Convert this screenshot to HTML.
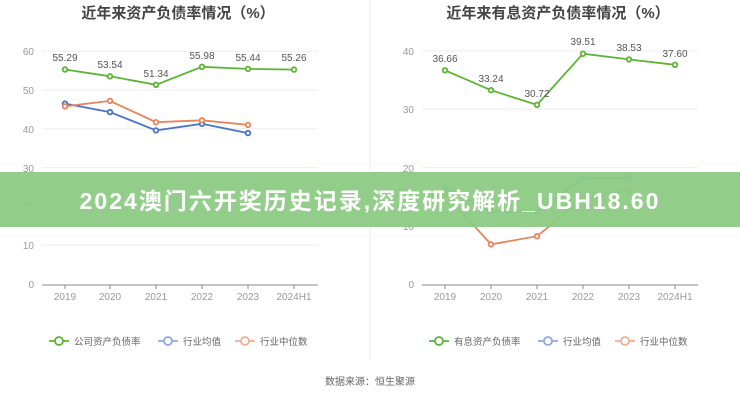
<!DOCTYPE html>
<html><head><meta charset="utf-8"><style>
body{margin:0;width:740px;height:400px;background:#fff;overflow:hidden;font-family:"Liberation Sans","Noto Sans CJK SC",sans-serif}
</style></head><body>
<svg width="740" height="400" xmlns="http://www.w3.org/2000/svg" style="position:absolute;left:0;top:0;font-family:'Liberation Sans','Noto Sans CJK SC',sans-serif">
<line x1="370" y1="0" x2="370" y2="360" stroke="#eee"/>
<text x="178" y="18" font-size="15" font-weight="bold" fill="#444" text-anchor="middle">近年来资产负债率情况（%）</text>
<text x="558" y="18" font-size="15" font-weight="bold" fill="#444" text-anchor="middle">近年来有息资产负债率情况（%）</text>
<g stroke="#eee">
<line x1="42" x2="318" y1="51.2" y2="51.2"/><line x1="42" x2="318" y1="90" y2="90"/><line x1="42" x2="318" y1="128.8" y2="128.8"/><line x1="42" x2="318" y1="167.6" y2="167.6"/><line x1="42" x2="318" y1="206.4" y2="206.4"/><line x1="42" x2="318" y1="245.2" y2="245.2"/>
<line x1="422" x2="698" y1="51" y2="51"/><line x1="422" x2="698" y1="109.3" y2="109.3"/><line x1="422" x2="698" y1="167.6" y2="167.6"/><line x1="422" x2="698" y1="225.8" y2="225.8"/>
</g>
<g stroke="#888"><line x1="42" x2="318" y1="285" y2="285"/><line x1="422" x2="698" y1="285" y2="285"/>
<path d="M65 285v4M110 285v4M156 285v4M202 285v4M248 285v4M294 285v4M445 285v4M491 285v4M537 285v4M583 285v4M629 285v4M675 285v4"/></g>
<g font-size="10" fill="#999" text-anchor="end">
<text x="34" y="55">60</text><text x="34" y="94">50</text><text x="34" y="133">40</text><text x="34" y="172">30</text><text x="34" y="210">20</text><text x="34" y="249">10</text><text x="34" y="288">0</text>
<text x="414" y="55">40</text><text x="414" y="113">30</text><text x="414" y="172">20</text><text x="414" y="230">10</text><text x="414" y="288">0</text>
</g>
<g font-size="10" fill="#999" text-anchor="middle">
<text x="65" y="300">2019</text><text x="110" y="300">2020</text><text x="156" y="300">2021</text><text x="202" y="300">2022</text><text x="248" y="300">2023</text><text x="294" y="300">2024H1</text>
<text x="445" y="300">2019</text><text x="491" y="300">2020</text><text x="537" y="300">2021</text><text x="583" y="300">2022</text><text x="629" y="300">2023</text><text x="675" y="300">2024H1</text>
</g>
<g fill="#fff" stroke-width="1.8">
<polyline points="65,103.6 110,112.1 156,130.4 202,123.8 248,133.1" fill="none" stroke="#4a74c9"/>
<polyline points="65,106.3 110,100.9 156,122.2 202,120.3 248,124.9" fill="none" stroke="#e8845a"/>
<polyline points="65,69.5 110,76.3 156,84.8 202,66.8 248,68.9 294,69.6" fill="none" stroke="#5bb534"/>
<polyline points="445,187.2 491,211.7 537,211.7 583,177.9 629,177.9" fill="none" stroke="#4a74c9"/>
<polyline points="445,193.6 491,244.4 537,236.2 583,199.5 629,190.1" fill="none" stroke="#e8845a"/>
<polyline points="445,70.3 491,90.2 537,104.9 583,53.7 629,59.4 675,64.8" fill="none" stroke="#5bb534"/>
<g stroke="#4a74c9"><circle cx="65" cy="103.6" r="2.3"/><circle cx="110" cy="112.1" r="2.3"/><circle cx="156" cy="130.4" r="2.3"/><circle cx="202" cy="123.8" r="2.3"/><circle cx="248" cy="133.1" r="2.3"/>
<circle cx="445" cy="187.2" r="2.3"/><circle cx="491" cy="211.7" r="2.3"/><circle cx="537" cy="211.7" r="2.3"/><circle cx="583" cy="177.9" r="2.3"/><circle cx="629" cy="177.9" r="2.3"/></g>
<g stroke="#e8845a"><circle cx="65" cy="106.3" r="2.3"/><circle cx="110" cy="100.9" r="2.3"/><circle cx="156" cy="122.2" r="2.3"/><circle cx="202" cy="120.3" r="2.3"/><circle cx="248" cy="124.9" r="2.3"/>
<circle cx="445" cy="193.6" r="2.3"/><circle cx="491" cy="244.4" r="2.3"/><circle cx="537" cy="236.2" r="2.3"/><circle cx="583" cy="199.5" r="2.3"/><circle cx="629" cy="190.1" r="2.3"/></g>
<g stroke="#5bb534"><circle cx="65" cy="69.5" r="2.3"/><circle cx="110" cy="76.3" r="2.3"/><circle cx="156" cy="84.8" r="2.3"/><circle cx="202" cy="66.8" r="2.3"/><circle cx="248" cy="68.9" r="2.3"/><circle cx="294" cy="69.6" r="2.3"/>
<circle cx="445" cy="70.3" r="2.3"/><circle cx="491" cy="90.2" r="2.3"/><circle cx="537" cy="104.9" r="2.3"/><circle cx="583" cy="53.7" r="2.3"/><circle cx="629" cy="59.4" r="2.3"/><circle cx="675" cy="64.8" r="2.3"/></g>
</g>
<g font-size="10" fill="#555" text-anchor="middle">
<text x="65" y="61">55.29</text><text x="110" y="68">53.54</text><text x="156" y="77">51.34</text><text x="202" y="59">55.98</text><text x="248" y="61">55.44</text><text x="294" y="61">55.26</text>
<text x="445" y="62">36.66</text><text x="491" y="82">33.24</text><text x="537" y="97">30.72</text><text x="583" y="45">39.51</text><text x="629" y="51">38.53</text><text x="675" y="57">37.60</text>
</g>
<g font-size="9.5" fill="#666" stroke-width="1.8">
<line x1="49" x2="69" y1="341" y2="341" stroke="#5bb534"/><circle cx="59" cy="341" r="4" fill="#fff" stroke="#5bb534"/><text x="74" y="345" stroke="none">公司资产负债率</text>
<line x1="158" x2="178" y1="341" y2="341" stroke="#8fa8e0"/><circle cx="168" cy="341" r="4" fill="#fff" stroke="#8fa8e0"/><text x="183" y="345" stroke="none">行业均值</text>
<line x1="235" x2="255" y1="341" y2="341" stroke="#f2ae95"/><circle cx="245" cy="341" r="4" fill="#fff" stroke="#f2ae95"/><text x="260" y="345" stroke="none">行业中位数</text>
<line x1="429" x2="449" y1="341" y2="341" stroke="#5bb534"/><circle cx="439" cy="341" r="4" fill="#fff" stroke="#5bb534"/><text x="454" y="345" stroke="none">有息资产负债率</text>
<line x1="538" x2="558" y1="341" y2="341" stroke="#8fa8e0"/><circle cx="548" cy="341" r="4" fill="#fff" stroke="#8fa8e0"/><text x="563" y="345" stroke="none">行业均值</text>
<line x1="615" x2="635" y1="341" y2="341" stroke="#f2ae95"/><circle cx="625" cy="341" r="4" fill="#fff" stroke="#f2ae95"/><text x="640" y="345" stroke="none">行业中位数</text>
</g>
<text x="370" y="385" font-size="10" fill="#666" text-anchor="middle">数据来源：恒生聚源</text>
<rect x="0" y="172" width="740" height="55" fill="#8ccb84" opacity="0.95"/>
<text x="370" y="209" font-size="23" font-weight="bold" fill="#fff" text-anchor="middle" letter-spacing="2">2024澳门六开奖历史记录,深度研究解析_UBH18.60</text>
</svg>
</body></html>
